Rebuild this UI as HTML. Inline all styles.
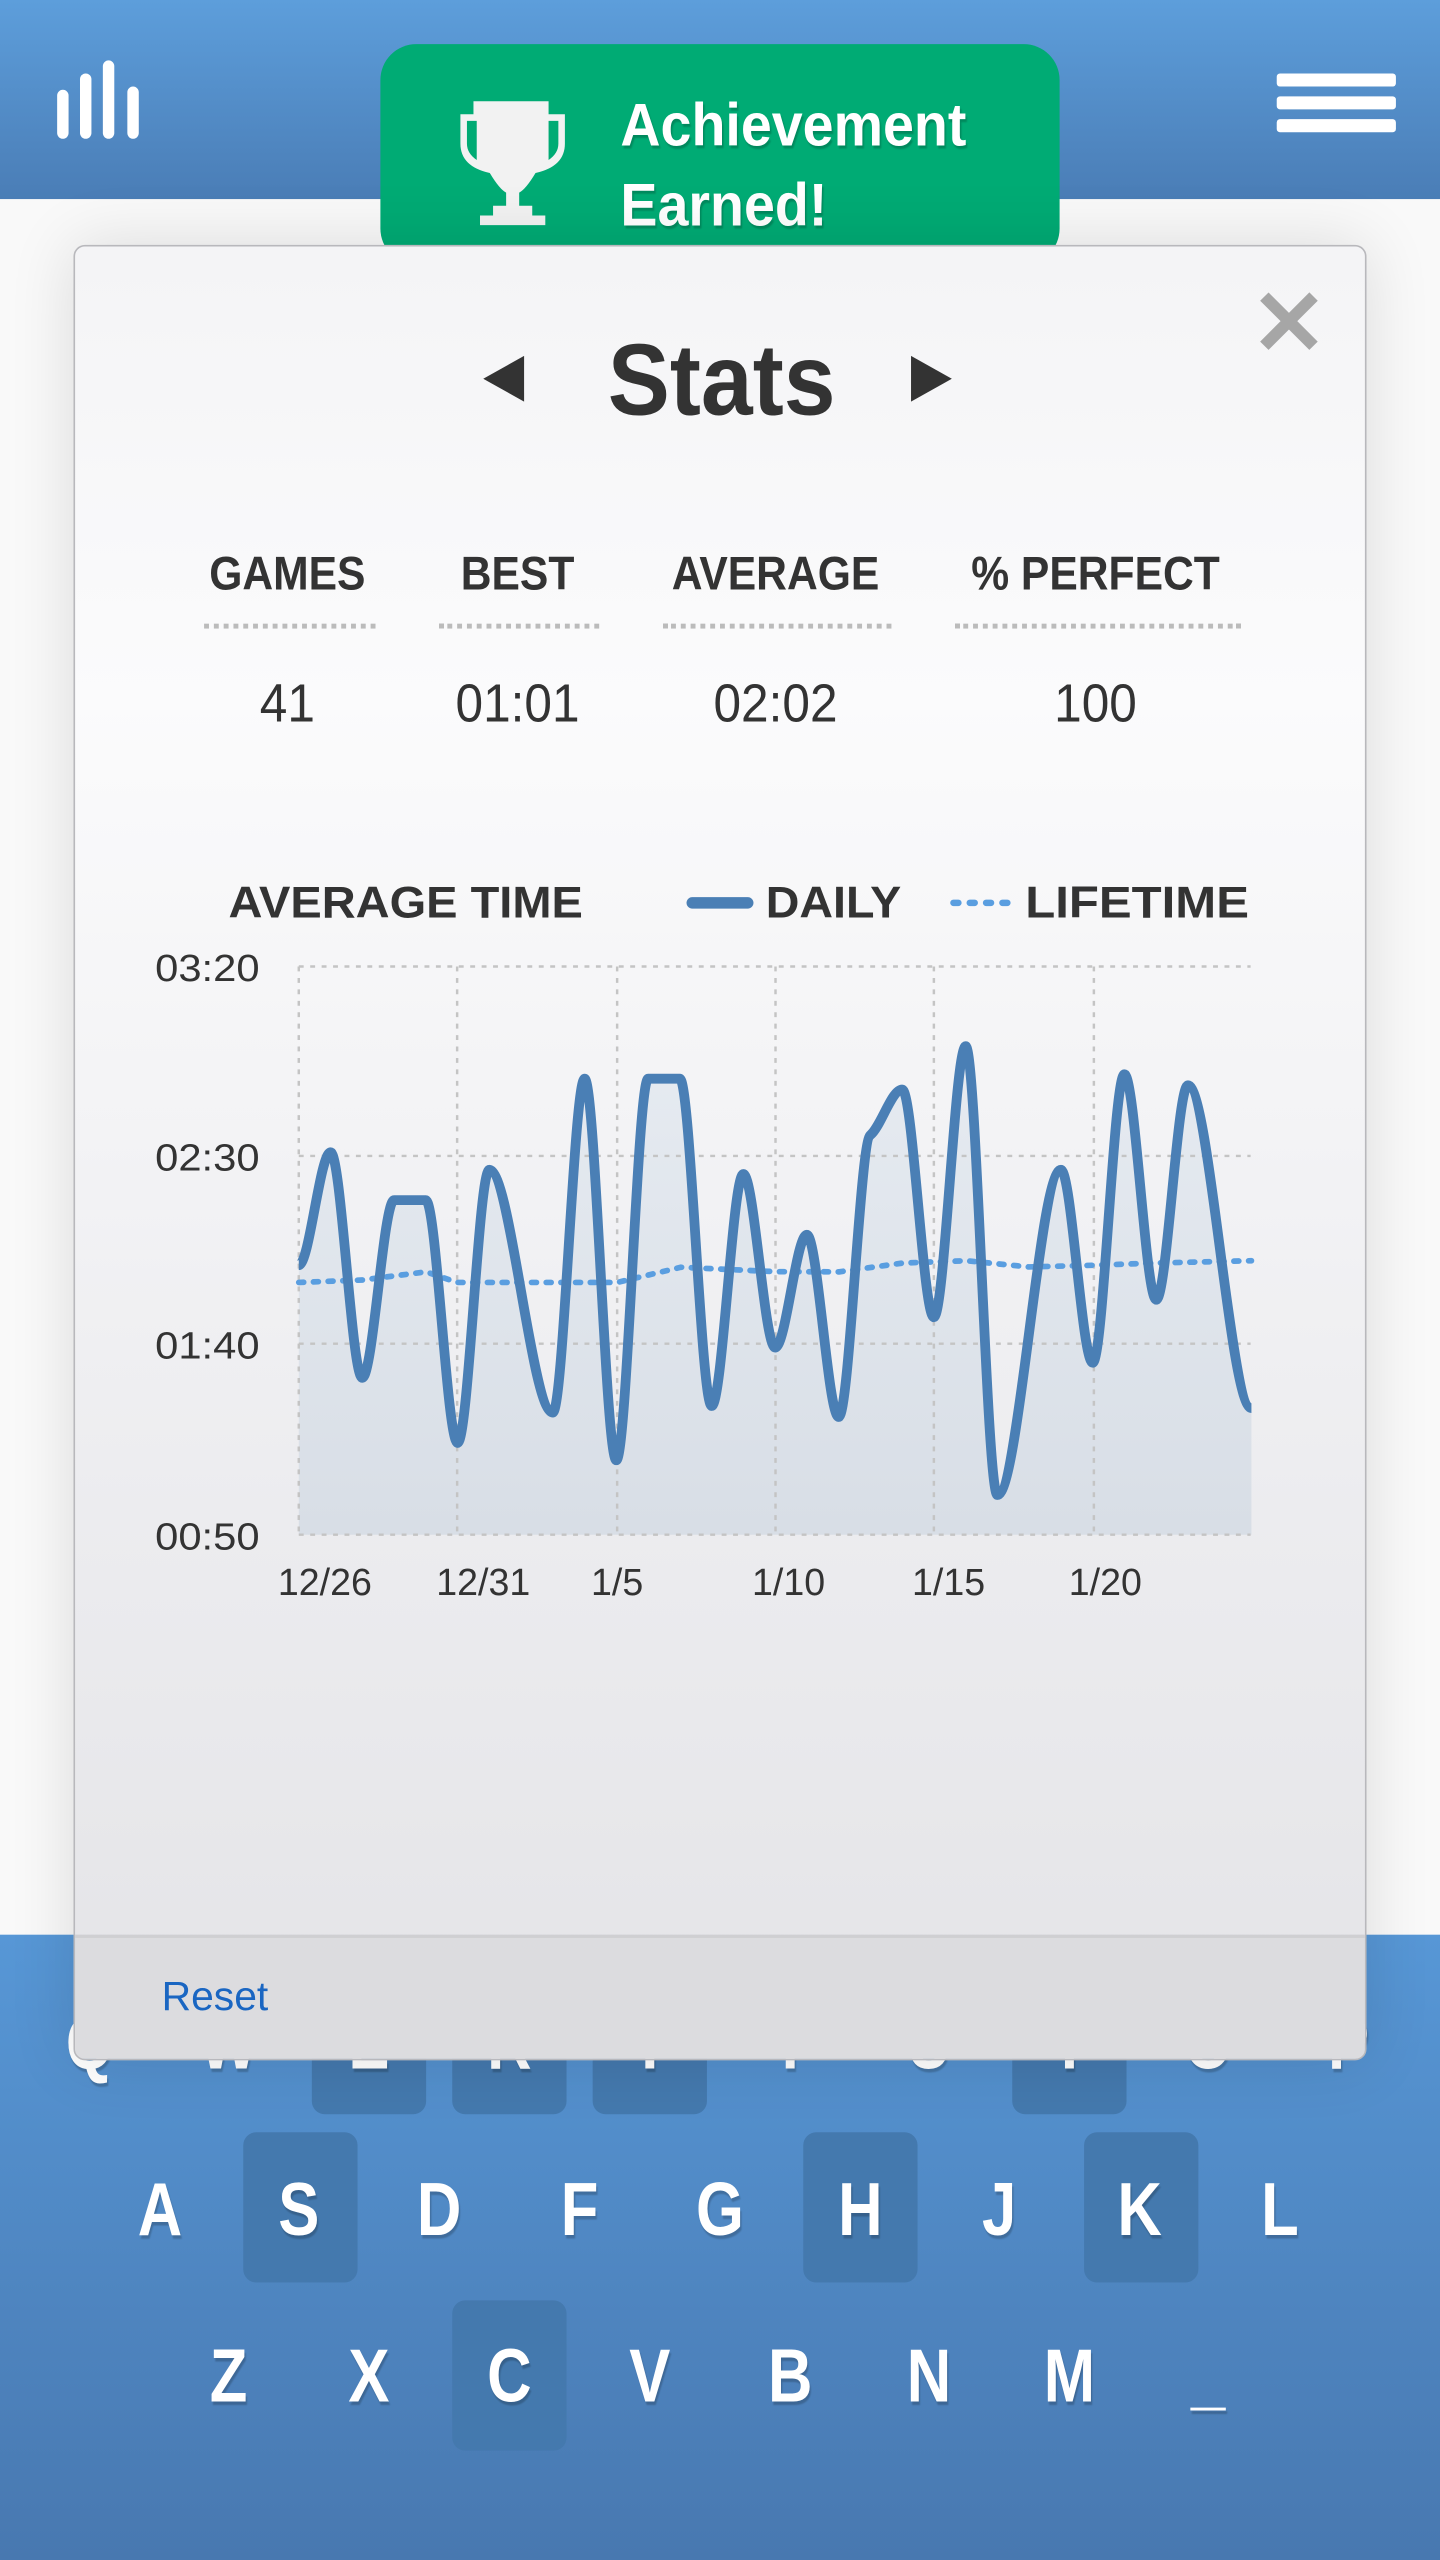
<!DOCTYPE html>
<html><head><meta charset="utf-8"><style>
html,body{margin:0;padding:0;width:1440px;height:2560px;overflow:hidden;background:#fafafa;font-family:"Liberation Sans",sans-serif}
#w{position:absolute;left:0;top:0;width:882px;height:1568px;transform:scale(1.63265);transform-origin:0 0}
.a{position:absolute}
.hdr{left:0;top:0;width:882px;height:122px;background:linear-gradient(#5d9edb,#4a7db6)}
.kb{left:0;top:1185px;width:882px;height:383px;background:linear-gradient(#5797d6,#4878b0)}
.key{position:absolute;width:70px;height:92px;border-radius:8px;background:#4479ae}
.k{position:absolute;color:#fff;font-size:46px;font-weight:bold;width:60px;text-align:center;transform:translateX(-30px) scaleX(.82);text-shadow:1px 2px 1px rgba(0,0,0,.2)}
.tab{left:233px;top:27px;width:416px;height:135px;border-radius:22px;background:#00ab74}
.modal{left:45px;top:150px;width:790px;height:1110px;border:1.5px solid #b8b8bc;border-radius:7px;background:linear-gradient(#f4f4f6,#fbfbfc 25%,#ececef 70%,#e4e4e7);box-shadow:0 0 40px rgba(0,0,0,.12);overflow:hidden}
.h{position:absolute;top:336px;font-size:29px;font-weight:bold;color:#333;transform:translateX(-50%) scaleX(.9);white-space:nowrap}
.v{position:absolute;top:412px;font-size:33px;color:#333;transform:translateX(-50%) scaleX(.92)}
.dl{position:absolute;top:382px;height:0;border-top:3px dotted #bbb}
</style></head><body><div id="w">
<div class="a hdr"></div>
<div class="a" style="left:0;top:122px;width:882px;height:1063px;background:#f9f9f9"></div>
<div class="a" style="left:35px;top:55px;width:7px;height:30px;background:#fff;border-radius:4px"></div>
<div class="a" style="left:49px;top:45px;width:7px;height:40px;background:#fff;border-radius:4px"></div>
<div class="a" style="left:63px;top:37px;width:7px;height:48px;background:#fff;border-radius:4px"></div>
<div class="a" style="left:78px;top:53px;width:7px;height:32px;background:#fff;border-radius:4px"></div>
<div class="a" style="left:782px;top:45px;width:73px;height:8px;background:#fff;border-radius:2px"></div>
<div class="a" style="left:782px;top:59px;width:73px;height:8px;background:#fff;border-radius:2px"></div>
<div class="a" style="left:782px;top:73px;width:73px;height:8px;background:#fff;border-radius:2px"></div>
<div class="a kb"></div>
<div class="key" style="left:191px;top:1203px"></div>
<div class="key" style="left:277px;top:1203px"></div>
<div class="key" style="left:363px;top:1203px"></div>
<div class="key" style="left:620px;top:1203px"></div>
<div class="key" style="left:149px;top:1306px"></div>
<div class="key" style="left:492px;top:1306px"></div>
<div class="key" style="left:664px;top:1306px"></div>
<div class="key" style="left:277px;top:1409px"></div>
<div class="k" style="left:55px;top:1224px">Q</div><div class="k" style="left:140px;top:1224px">W</div><div class="k" style="left:226px;top:1224px">E</div><div class="k" style="left:312px;top:1224px">R</div><div class="k" style="left:398px;top:1224px">T</div><div class="k" style="left:484px;top:1224px">Y</div><div class="k" style="left:569px;top:1224px">U</div><div class="k" style="left:655px;top:1224px">I</div><div class="k" style="left:740px;top:1224px">O</div><div class="k" style="left:826px;top:1224px">P</div>
<div class="k" style="left:98px;top:1326px">A</div><div class="k" style="left:183px;top:1326px">S</div><div class="k" style="left:269px;top:1326px">D</div><div class="k" style="left:355px;top:1326px">F</div><div class="k" style="left:441px;top:1326px">G</div><div class="k" style="left:527px;top:1326px">H</div><div class="k" style="left:612px;top:1326px">J</div><div class="k" style="left:698px;top:1326px">K</div><div class="k" style="left:784px;top:1326px">L</div>
<div class="k" style="left:140px;top:1428px">Z</div><div class="k" style="left:226px;top:1428px">X</div><div class="k" style="left:312px;top:1428px">C</div><div class="k" style="left:398px;top:1428px">V</div><div class="k" style="left:484px;top:1428px">B</div><div class="k" style="left:569px;top:1428px">N</div><div class="k" style="left:655px;top:1428px">M</div><div class="k" style="left:740px;top:1428px">_</div>
<div class="a tab"></div>
<svg class="a" style="left:276px;top:58px" width="76" height="80" viewBox="0 0 76 80">
<path d="M14 4H60V12H70V30Q70 44 52 48Q46 58 42 60V68H50V74H58V80H18V74H26V68H34V60Q30 58 24 48Q6 44 6 30V12H14Z" fill="#f2f2f2"/>
<path d="M10 16H16V40Q10 36 10 30Z M66 16H60V40Q66 36 66 30Z" fill="#00ab74"/>
</svg>
<div class="a" style="left:380px;top:52px;color:#fff;font-weight:bold;font-size:37px;line-height:49px;transform:scaleX(.92);transform-origin:0 0;text-shadow:1px 2px 1px rgba(0,0,0,.2)">Achievement<br>Earned!</div>
<div class="a modal">
 <div class="a" style="left:0;top:1034px;width:790px;height:80px;background:#dcdcdf;border-top:2px solid #cfcfd2"></div>
 <div class="a" style="left:53px;top:1058px;font-size:25px;color:#1a66c2">Reset</div>
 <div class="a" style="left:720px;top:14px;font-size:56px;font-weight:bold;color:#a6a6a6">✕</div>
 <div class="a" style="left:250px;top:67px;width:0;height:0;border-top:14px solid transparent;border-bottom:14px solid transparent;border-right:25px solid #333"></div>
 <div class="a" style="left:512px;top:67px;width:0;height:0;border-top:14px solid transparent;border-bottom:14px solid transparent;border-left:25px solid #333"></div>
 <div class="a" style="left:396px;top:47px;font-size:62px;font-weight:bold;color:#333;transform:translateX(-50%) scaleX(.92)">Stats</div>
</div>
<div class="h" style="left:176px">GAMES</div><div class="h" style="left:317px">BEST</div><div class="h" style="left:475px">AVERAGE</div><div class="h" style="left:671px">% PERFECT</div>
<div class="dl" style="left:125px;width:105px"></div><div class="dl" style="left:269px;width:98px"></div><div class="dl" style="left:406px;width:140px"></div><div class="dl" style="left:585px;width:175px"></div>
<div class="v" style="left:176px">41</div><div class="v" style="left:317px">01:01</div><div class="v" style="left:475px">02:02</div><div class="v" style="left:671px">100</div>
<svg class="a" style="left:0;top:0" width="882" height="1100" viewBox="0 0 882 1100">
<defs><linearGradient id="g" x1="0" y1="0" x2="0" y2="1"><stop offset="0" stop-color="#e6ebf1"/><stop offset="1" stop-color="#d8dee6"/></linearGradient></defs>
<g font-family="Liberation Sans,sans-serif" font-weight="bold" fill="#333">
<text x="140" y="562" font-size="27" textLength="217" lengthAdjust="spacingAndGlyphs">AVERAGE TIME</text>
<text x="469" y="562" font-size="27" textLength="83" lengthAdjust="spacingAndGlyphs">DAILY</text>
<text x="628" y="562" font-size="27" textLength="137" lengthAdjust="spacingAndGlyphs">LIFETIME</text>
</g>
<line x1="424" y1="553" x2="458" y2="553" stroke="#4a7fb5" stroke-width="7" stroke-linecap="round"/>
<line x1="584" y1="553" x2="620" y2="553" stroke="#5a9ee0" stroke-width="4" stroke-dasharray="3 7" stroke-linecap="round"/>
<path d="M183,774.9 C189.5,774.9 196,705.8 202.5,705.8 C209,705.8 215.4,843.9 221.9,843.9 C228.4,843.9 234.9,735.1 241.4,735.1 L260.8,735.1 C267.3,735.1 273.8,883.8 280.3,883.8 C286.8,883.8 293.2,716.5 299.7,716.5 C312.7,716.5 325.6,865.2 338.6,865.2 C345.1,865.2 351.6,660.7 358.1,660.7 C364.6,660.7 371,894.4 377.5,894.4 C384,894.4 390.5,660.7 397,660.7 L416.4,660.7 C422.9,660.7 429.4,861.2 435.9,861.2 C442.4,861.2 448.8,719.1 455.3,719.1 C461.8,719.1 468.3,825.4 474.8,825.4 C481.3,825.4 487.7,756.3 494.2,756.3 C500.7,756.3 507.2,867.9 513.7,867.9 C520.2,867.9 526.6,700 533.1,695.2 C539.6,690 546.1,667.3 552.6,667.3 C559.1,667.3 565.5,806.8 572,806.8 C578.5,806.8 585,640.8 591.5,640.8 C598,640.8 604.4,915.7 610.9,915.7 C623.9,915.7 636.8,716.5 649.8,716.5 C656.3,716.5 662.8,834.7 669.3,834.7 C675.8,834.7 682.2,658 688.7,658 C695.2,658 701.7,796.1 708.2,796.1 C714.7,796.1 721.1,664.7 727.6,664.7 C740.6,664.7 753.5,862.5 766.5,862.5 L766.5,940 L183,940 Z" fill="url(#g)"/>
<g stroke="#c4c4c4" stroke-width="1.5" stroke-dasharray="3 4" fill="none">
<line x1="183" y1="592" x2="766" y2="592"/><line x1="183" y1="708" x2="766" y2="708"/><line x1="183" y1="823" x2="766" y2="823"/><line x1="183" y1="940" x2="766" y2="940"/>
<line x1="183" y1="592" x2="183" y2="940"/><line x1="280" y1="592" x2="280" y2="940"/><line x1="378" y1="592" x2="378" y2="940"/><line x1="475" y1="592" x2="475" y2="940"/><line x1="572" y1="592" x2="572" y2="940"/><line x1="670" y1="592" x2="670" y2="940"/>
</g>
<polyline points="183,785.5 222,784 261,779 280,785.5 339,785.5 378,785.5 417,776.2 475,778.9 514,779 553,773.6 592,772.2 630,776 669,775 708,773.6 766.5,772.2" fill="none" stroke="#5a9ee0" stroke-width="3.5" stroke-dasharray="3 6" stroke-linecap="round"/>
<path d="M183,774.9 C189.5,774.9 196,705.8 202.5,705.8 C209,705.8 215.4,843.9 221.9,843.9 C228.4,843.9 234.9,735.1 241.4,735.1 L260.8,735.1 C267.3,735.1 273.8,883.8 280.3,883.8 C286.8,883.8 293.2,716.5 299.7,716.5 C312.7,716.5 325.6,865.2 338.6,865.2 C345.1,865.2 351.6,660.7 358.1,660.7 C364.6,660.7 371,894.4 377.5,894.4 C384,894.4 390.5,660.7 397,660.7 L416.4,660.7 C422.9,660.7 429.4,861.2 435.9,861.2 C442.4,861.2 448.8,719.1 455.3,719.1 C461.8,719.1 468.3,825.4 474.8,825.4 C481.3,825.4 487.7,756.3 494.2,756.3 C500.7,756.3 507.2,867.9 513.7,867.9 C520.2,867.9 526.6,700 533.1,695.2 C539.6,690 546.1,667.3 552.6,667.3 C559.1,667.3 565.5,806.8 572,806.8 C578.5,806.8 585,640.8 591.5,640.8 C598,640.8 604.4,915.7 610.9,915.7 C623.9,915.7 636.8,716.5 649.8,716.5 C656.3,716.5 662.8,834.7 669.3,834.7 C675.8,834.7 682.2,658 688.7,658 C695.2,658 701.7,796.1 708.2,796.1 C714.7,796.1 721.1,664.7 727.6,664.7 C740.6,664.7 753.5,862.5 766.5,862.5" fill="none" stroke="#4a7fb5" stroke-width="6" stroke-linejoin="round"/>
<g font-family="Liberation Sans,sans-serif" font-size="23" fill="#333">
<text x="95" y="601" textLength="64" lengthAdjust="spacingAndGlyphs">03:20</text><text x="95" y="717" textLength="64" lengthAdjust="spacingAndGlyphs">02:30</text><text x="95" y="832" textLength="64" lengthAdjust="spacingAndGlyphs">01:40</text><text x="95" y="949" textLength="64" lengthAdjust="spacingAndGlyphs">00:50</text>
<text x="199" y="977" text-anchor="middle">12/26</text><text x="296" y="977" text-anchor="middle">12/31</text><text x="378" y="977" text-anchor="middle">1/5</text><text x="483" y="977" text-anchor="middle">1/10</text><text x="581" y="977" text-anchor="middle">1/15</text><text x="677" y="977" text-anchor="middle">1/20</text>
</g>
</svg>
<div class="a modal" style="background:none;box-shadow:none;border-color:transparent;pointer-events:none"></div>
</div></body></html>
